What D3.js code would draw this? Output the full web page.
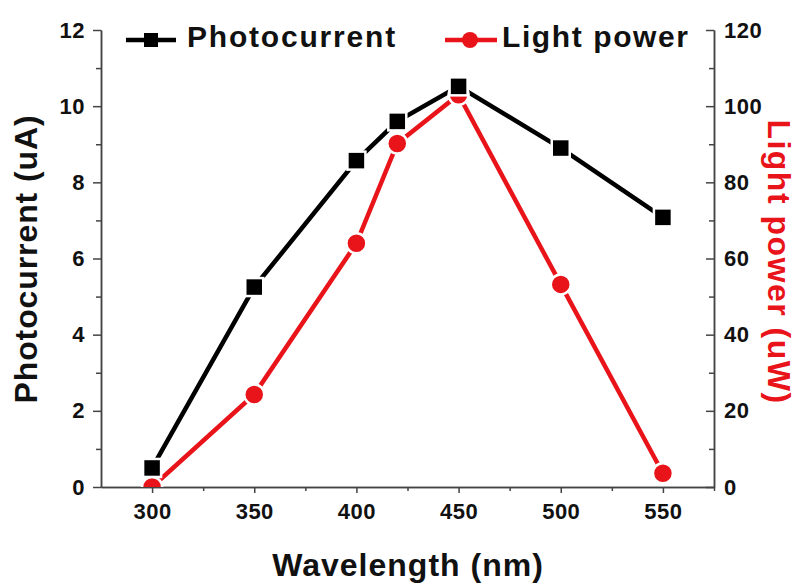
<!DOCTYPE html>
<html>
<head>
<meta charset="utf-8">
<script src="https://cdn.jsdelivr.net/npm/d3@7"></script>
<style>
  body { margin: 0; background: #fff; }
  text { font-family: Arial, "Liberation Sans", sans-serif; }
</style>
</head>
<body>
<div id="vis"></div>
<script>
// data
var wavelength = [300, 350, 400, 420, 450, 500, 550];
var photocurrent = [0.5, 5.25, 8.57, 9.6, 10.52, 8.9, 7.08];
var lightPower = [0, 24.3, 64, 90.2, 103, 53.2, 3.6];

var xTicks = [300, 350, 400, 450, 500, 550];
var leftTicks = [0, 2, 4, 6, 8, 10, 12];
var rightTicks = [0, 20, 40, 60, 80, 100, 120];

var red = "#e8141a";

var width = 798, height = 583;
var margin = {top: 30, left: 101, right: 84, bottom: 96};

var svg = d3.select("#vis").append("svg")
    .attr("width", width)
    .attr("height", height);

var x = d3.scaleLinear().domain([275, 575]).range([margin.left, width - margin.right]);
var yL = d3.scaleLinear().domain([0, 12]).range([height - margin.bottom, margin.top]);
var yR = d3.scaleLinear().domain([0, 120]).range([height - margin.bottom, margin.top]);

var bottom = height - margin.bottom;

// axes
svg.append("g")
    .attr("transform", "translate(0," + bottom + ")")
    .call(d3.axisBottom(x).tickValues(xTicks).tickSize(6).tickSizeOuter(0).tickPadding(10));

svg.append("g")
    .attr("transform", "translate(0," + bottom + ")")
    .call(d3.axisBottom(x).tickValues(d3.range(325, 576, 50)).tickSize(4).tickFormat("").tickSizeOuter(0));

svg.append("g")
    .attr("transform", "translate(" + margin.left + ",0)")
    .call(d3.axisLeft(yL).tickValues(leftTicks).tickSize(8).tickSizeOuter(0).tickPadding(8));

svg.append("g")
    .attr("transform", "translate(" + margin.left + ",0)")
    .call(d3.axisLeft(yL).tickValues(d3.range(1, 12, 2)).tickSize(5).tickFormat("").tickSizeOuter(0));

svg.append("g")
    .attr("transform", "translate(" + (width - margin.right) + ",0)")
    .call(d3.axisRight(yR).tickValues(rightTicks).tickSize(-8).tickSizeOuter(0).tickPadding(10));

svg.append("g")
    .attr("transform", "translate(" + (width - margin.right) + ",0)")
    .call(d3.axisRight(yR).tickValues(d3.range(10, 120, 20)).tickSize(-5).tickFormat("").tickSizeOuter(0));

svg.selectAll(".domain").attr("stroke", "#444").attr("stroke-width", 1.5);
svg.selectAll(".tick line").attr("stroke", "#444").attr("stroke-width", 1.5);
svg.selectAll(".tick text")
    .attr("fill", "#111")
    .style("font-size", "22px")
    .style("font-weight", "bold")
    .style("letter-spacing", "0.5px");

// clip to plot area
svg.append("clipPath").attr("id", "plot")
    .append("rect")
    .attr("x", margin.left).attr("y", 0)
    .attr("width", width - margin.left - margin.right)
    .attr("height", bottom);

var plot = svg.append("g").attr("clip-path", "url(#plot)");

var linePC = d3.line()
    .x(function(d, i) { return x(wavelength[i]); })
    .y(function(d) { return yL(d); });
var linePW = d3.line()
    .x(function(d, i) { return x(wavelength[i]); })
    .y(function(d) { return yR(d); });

plot.append("path")
    .datum(lightPower)
    .attr("d", linePW)
    .attr("fill", "none")
    .attr("stroke", red)
    .attr("stroke-width", 4.5);

plot.append("path")
    .datum(photocurrent)
    .attr("d", linePC)
    .attr("fill", "none")
    .attr("stroke", "#000")
    .attr("stroke-width", 4.5);

plot.selectAll(".pw")
    .data(lightPower)
    .enter().append("circle")
    .attr("cx", function(d, i) { return x(wavelength[i]); })
    .attr("cy", function(d) { return yR(d); })
    .attr("r", 10)
    .attr("fill", red)
    .attr("stroke", "#fff")
    .attr("stroke-width", 2.5);

plot.selectAll(".pc")
    .data(photocurrent)
    .enter().append("rect")
    .attr("x", function(d, i) { return x(wavelength[i]) - 9; })
    .attr("y", function(d) { return yL(d) - 9; })
    .attr("width", 18)
    .attr("height", 18)
    .attr("fill", "#000")
    .attr("stroke", "#fff")
    .attr("stroke-width", 2.5);

// legend
var leg1 = svg.append("g").attr("transform", "translate(126,40)");
leg1.append("line").attr("x1", 0).attr("x2", 50).attr("stroke", "#000").attr("stroke-width", 4.5);
leg1.append("rect").attr("x", 18).attr("y", -7).attr("width", 14).attr("height", 14).attr("fill", "#000");
leg1.append("text").attr("x", 61).attr("y", 7)
    .style("font-size", "30px").style("font-weight", "bold").style("letter-spacing", "1.8px")
    .attr("fill", "#111")
    .text("Photocurrent");

var leg2 = svg.append("g").attr("transform", "translate(445,40)");
leg2.append("line").attr("x1", 0).attr("x2", 52).attr("stroke", red).attr("stroke-width", 4.5);
leg2.append("circle").attr("cx", 25).attr("cy", 0).attr("r", 8).attr("fill", red);
leg2.append("text").attr("x", 57).attr("y", 7)
    .style("font-size", "30px").style("font-weight", "bold").style("letter-spacing", "1.6px")
    .attr("fill", "#111")
    .text("Light power");

// axis titles
svg.append("text")
    .attr("x", 408)
    .attr("y", 576)
    .attr("text-anchor", "middle")
    .style("font-size", "32px").style("font-weight", "bold").style("letter-spacing", "1px")
    .attr("fill", "#111")
    .text("Wavelength (nm)");

svg.append("text")
    .attr("transform", "translate(37,259) rotate(-90)")
    .attr("text-anchor", "middle")
    .style("font-size", "32px").style("font-weight", "bold").style("letter-spacing", "0.9px")
    .attr("fill", "#111")
    .text("Photocurrent (uA)");

svg.append("text")
    .attr("transform", "translate(768,262) rotate(90)")
    .attr("text-anchor", "middle")
    .style("font-size", "32px").style("font-weight", "bold").style("letter-spacing", "1.5px")
    .attr("fill", red)
    .text("Light power (uW)");
</script>
</body>
</html>
